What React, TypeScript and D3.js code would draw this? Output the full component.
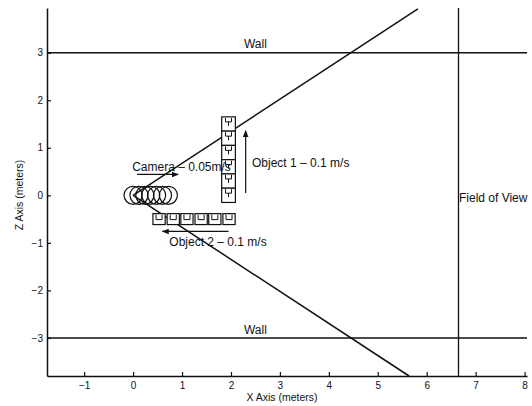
import React, { useEffect, useRef } from "react";
import * as d3 from "d3";

const W = 532;
const H = 406;

// axis ticks (meters)
const xTicks = [-1, 0, 1, 2, 3, 4, 5, 6, 7, 8];
const zTicks = [-3, -2, -1, 0, 1, 2, 3];

// scene
const wallZ = [3, -3];
const fovX = 6.65;
const fovUpper: [number, number][] = [[0, 0], [5.82, 3.92]];
const fovLower: [number, number][] = [[0, 0], [5.64, -3.8]];
const cameraX = [0, 0.12, 0.24, 0.36, 0.48, 0.6, 0.72];
const object1X = 1.95;
const object1Z = [1.5, 1.2, 0.9, 0.6, 0.3, 0.0];
const object2Z = -0.5;
const object2X = [0.53, 0.82, 1.1, 1.39, 1.67, 1.96];

const arrows = [
  { x1: 0.08, z1: 0.44, x2: 0.92, z2: 0.44 },
  { x1: 2.3, z1: 0.05, x2: 2.3, z2: 1.36 },
  { x1: 1.95, z1: -0.76, x2: 0.6, z2: -0.76 },
];

const labels = [
  { text: "Wall", x: 2.5, z: 3.18, anchor: "middle" },
  { text: "Wall", x: 2.5, z: -2.82, anchor: "middle" },
  { text: "Field of View", x: 6.66, z: -0.05, anchor: "start" },
  { text: "Camera – 0.05m/s", x: -0.02, z: 0.6, anchor: "start" },
  { text: "Object 1 – 0.1 m/s", x: 2.43, z: 0.68, anchor: "start" },
  { text: "Object 2 – 0.1 m/s", x: 0.74, z: -0.98, anchor: "start" },
];

const FONT = "'Liberation Sans', Arial, Helvetica, sans-serif";
const INK = "#111";

export default function App() {
  const svgRef = useRef<SVGSVGElement>(null);

  useEffect(() => {
    const svg = d3.select(svgRef.current);
    svg.selectAll("*").remove();

    const x = d3.scaleLinear().domain([-1.76, 8.05]).range([47, 527]);
    const z = d3.scaleLinear().domain([-3.8, 3.94]).range([376, 8]);

    svg
      .append("defs")
      .append("marker")
      .attr("id", "head")
      .attr("viewBox", "0 0 10 10")
      .attr("refX", 9)
      .attr("refY", 5)
      .attr("markerWidth", 7)
      .attr("markerHeight", 7)
      .attr("markerUnits", "userSpaceOnUse")
      .attr("orient", "auto")
      .append("path")
      .attr("d", "M0,1 L10,5 L0,9 Z")
      .attr("fill", INK);

    // axes, ticks pointing inward
    const xAxis = d3
      .axisBottom(x)
      .tickValues(xTicks)
      .tickSizeInner(-4)
      .tickSizeOuter(0)
      .tickPadding(6);
    const zAxis = d3
      .axisLeft(z)
      .tickValues(zTicks)
      .tickSizeInner(-4)
      .tickSizeOuter(0)
      .tickPadding(4);

    const gx = svg.append("g").attr("transform", `translate(0, ${z(-3.8)})`).call(xAxis);
    const gz = svg.append("g").attr("transform", `translate(${x(-1.76)}, 0)`).call(zAxis);
    [gx, gz].forEach((g) => {
      g.select(".domain").attr("stroke", INK).attr("stroke-width", 1.5);
      g.selectAll(".tick line").attr("stroke", INK).attr("stroke-width", 1.2);
      g.selectAll(".tick text")
        .attr("fill", INK)
        .style("font-family", FONT)
        .style("font-size", "10px");
    });

    svg
      .append("text")
      .attr("x", 282)
      .attr("y", 401)
      .attr("text-anchor", "middle")
      .style("font-family", FONT)
      .style("font-size", "10.5px")
      .attr("fill", INK)
      .text("X Axis (meters)");
    svg
      .append("text")
      .attr("transform", `translate(23, 195) rotate(-90)`)
      .attr("text-anchor", "middle")
      .style("font-family", FONT)
      .style("font-size", "10.5px")
      .attr("fill", INK)
      .text("Z Axis (meters)");

    // walls
    svg
      .selectAll(".wall")
      .data(wallZ)
      .join("line")
      .attr("class", "wall")
      .attr("x1", x(-1.76))
      .attr("x2", x(8.05))
      .attr("y1", (d) => z(d))
      .attr("y2", (d) => z(d))
      .attr("stroke", INK)
      .attr("stroke-width", 1.4);

    // field of view boundary
    svg
      .append("line")
      .attr("x1", x(fovX))
      .attr("x2", x(fovX))
      .attr("y1", z(3.94))
      .attr("y2", z(-3.8))
      .attr("stroke", INK)
      .attr("stroke-width", 1.3);

    const line = d3
      .line<[number, number]>()
      .x((d) => x(d[0]))
      .y((d) => z(d[1]));
    svg
      .selectAll(".fov")
      .data([fovUpper, fovLower])
      .join("path")
      .attr("class", "fov")
      .attr("d", (d) => line(d))
      .attr("fill", "none")
      .attr("stroke", INK)
      .attr("stroke-width", 1.5);

    // camera positions
    const r = x(0.185) - x(0);
    svg
      .selectAll(".cam")
      .data(cameraX)
      .join("circle")
      .attr("class", "cam")
      .attr("cx", (d) => x(d))
      .attr("cy", z(0))
      .attr("r", r)
      .attr("fill", "none")
      .attr("stroke", INK)
      .attr("stroke-width", 1.2);

    // object 1 boxes
    const bw1 = x(0.14) - x(0);
    const bh1 = z(0) - z(0.15);
    const o1 = svg
      .selectAll(".o1")
      .data(object1Z)
      .join("g")
      .attr("class", "o1")
      .attr("transform", (d) => `translate(${x(object1X)}, ${z(d)})`);
    o1.append("rect")
      .attr("x", -bw1)
      .attr("y", -bh1)
      .attr("width", bw1 * 2)
      .attr("height", bh1 * 2)
      .attr("fill", "#fff")
      .attr("stroke", INK)
      .attr("stroke-width", 1.2);
    o1.append("path")
      .attr("d", `M-3,${-bh1 + 1} V${-bh1 + 5} H3 V${-bh1 + 1} M0,${-bh1 + 5} V${-bh1 + 9}`)
      .attr("fill", "none")
      .attr("stroke", INK)
      .attr("stroke-width", 1);

    // object 2 boxes
    const bw2 = x(0.125) - x(0);
    const bh2 = z(0) - z(0.115);
    const o2 = svg
      .selectAll(".o2")
      .data(object2X)
      .join("g")
      .attr("class", "o2")
      .attr("transform", (d) => `translate(${x(d)}, ${z(object2Z)})`);
    o2.append("rect")
      .attr("x", -bw2)
      .attr("y", -bh2)
      .attr("width", bw2 * 2)
      .attr("height", bh2 * 2)
      .attr("fill", "#fff")
      .attr("stroke", INK)
      .attr("stroke-width", 1.2);
    o2.append("path")
      .attr("d", `M-3,${-bh2 + 1} V${-bh2 + 6} H3 V${-bh2 + 1}`)
      .attr("fill", "none")
      .attr("stroke", INK)
      .attr("stroke-width", 1);

    // motion arrows
    svg
      .selectAll(".arrow")
      .data(arrows)
      .join("line")
      .attr("class", "arrow")
      .attr("x1", (d) => x(d.x1))
      .attr("y1", (d) => z(d.z1))
      .attr("x2", (d) => x(d.x2))
      .attr("y2", (d) => z(d.z2))
      .attr("stroke", INK)
      .attr("stroke-width", 1.2)
      .attr("marker-end", "url(#head)");

    // labels
    svg
      .selectAll(".lbl")
      .data(labels)
      .join("text")
      .attr("class", "lbl")
      .attr("x", (d) => x(d.x))
      .attr("y", (d) => z(d.z))
      .attr("dy", "0.35em")
      .attr("text-anchor", (d) => d.anchor)
      .style("font-family", FONT)
      .style("font-size", "12px")
      .attr("fill", INK)
      .text((d) => d.text);
  }, []);

  return (
    <svg
      ref={svgRef}
      width={W}
      height={H}
      style={{ position: "absolute", left: 0, top: 0, background: "#fff" }}
    />
  );
}
